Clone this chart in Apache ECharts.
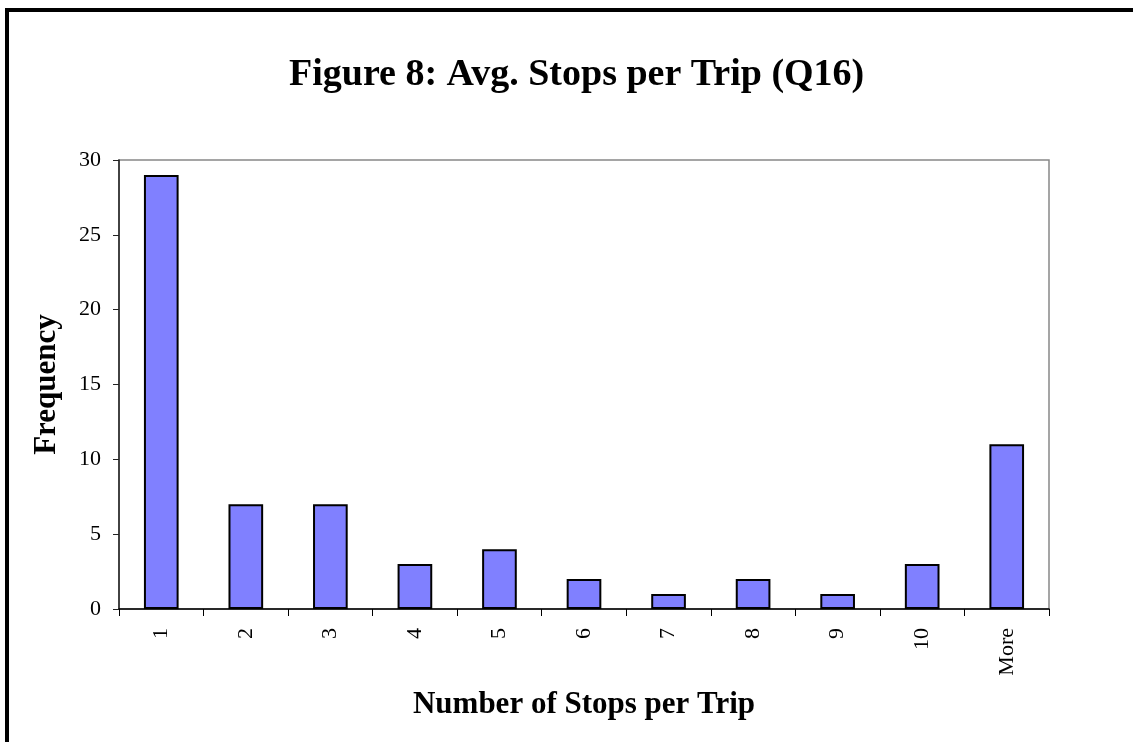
<!DOCTYPE html>
<html>
<head>
<meta charset="utf-8">
<script src="https://cdn.jsdelivr.net/npm/echarts@6/dist/echarts.min.js"></script>
<style>
  html, body { margin: 0; padding: 0; background: #fff; }
  #chart { width: 1133px; height: 742px; }
</style>
</head>
<body>
<div id="chart"></div>
<script>
// Histogram of average stops per trip (survey question 16)
const categories = ['1', '2', '3', '4', '5', '6', '7', '8', '9', '10', 'More'];
const frequency = [29, 7, 7, 3, 4, 2, 1, 2, 1, 3, 11];
const yTicks = { min: 0, max: 30, interval: 5 };

const serif = '"Liberation Serif", "Times New Roman", "DejaVu Serif", serif';

const chart = echarts.init(document.getElementById('chart'), null, { renderer: 'canvas' });
chart.setOption({
  backgroundColor: '#ffffff',
  animation: false,
  graphic: [{
    type: 'rect',
    shape: { x: 7, y: 10, width: 1300, height: 900 },
    style: { fill: 'none', stroke: '#000', lineWidth: 4 },
    silent: true
  }],
  title: {
    text: 'Figure 8: Avg. Stops per Trip (Q16)',
    left: 284,
    top: 51,
    textStyle: { fontFamily: serif, fontWeight: 'bold', fontSize: 38, color: '#000' }
  },
  grid: {
    left: 119, top: 160, right: 84, bottom: 133,
    show: true, borderColor: '#888', borderWidth: 1.5, backgroundColor: 'transparent'
  },
  xAxis: {
    type: 'category',
    data: categories,
    boundaryGap: true,
    name: 'Number of Stops per Trip',
    nameLocation: 'middle',
    nameGap: 80,
    nameTextStyle: { fontFamily: serif, fontWeight: 'bold', fontSize: 31, color: '#000' },
    axisLine: { show: true, lineStyle: { color: '#000', width: 1.5 } },
    axisTick: { show: true, alignWithLabel: false, length: 7, lineStyle: { color: '#000' } },
    axisLabel: { rotate: 90, margin: 19, fontFamily: serif, fontSize: 22, color: '#000' },
    splitLine: { show: false }
  },
  yAxis: {
    type: 'value',
    min: yTicks.min, max: yTicks.max, interval: yTicks.interval,
    name: 'Frequency',
    nameLocation: 'middle',
    nameGap: 57,
    nameTextStyle: { fontFamily: serif, fontWeight: 'bold', fontSize: 31, color: '#000' },
    axisLine: { show: true, lineStyle: { color: '#222', width: 1.5 } },
    axisTick: { show: true, inside: false, length: 6, lineStyle: { color: '#222' } },
    axisLabel: { margin: 18, fontFamily: serif, fontSize: 22, color: '#000' },
    splitLine: { show: false }
  },
  series: [{
    type: 'bar',
    data: frequency,
    barCategoryGap: '59%',
    itemStyle: { color: '#8080FF', borderColor: '#000', borderWidth: 2 }
  }]
});
</script>
</body>
</html>
